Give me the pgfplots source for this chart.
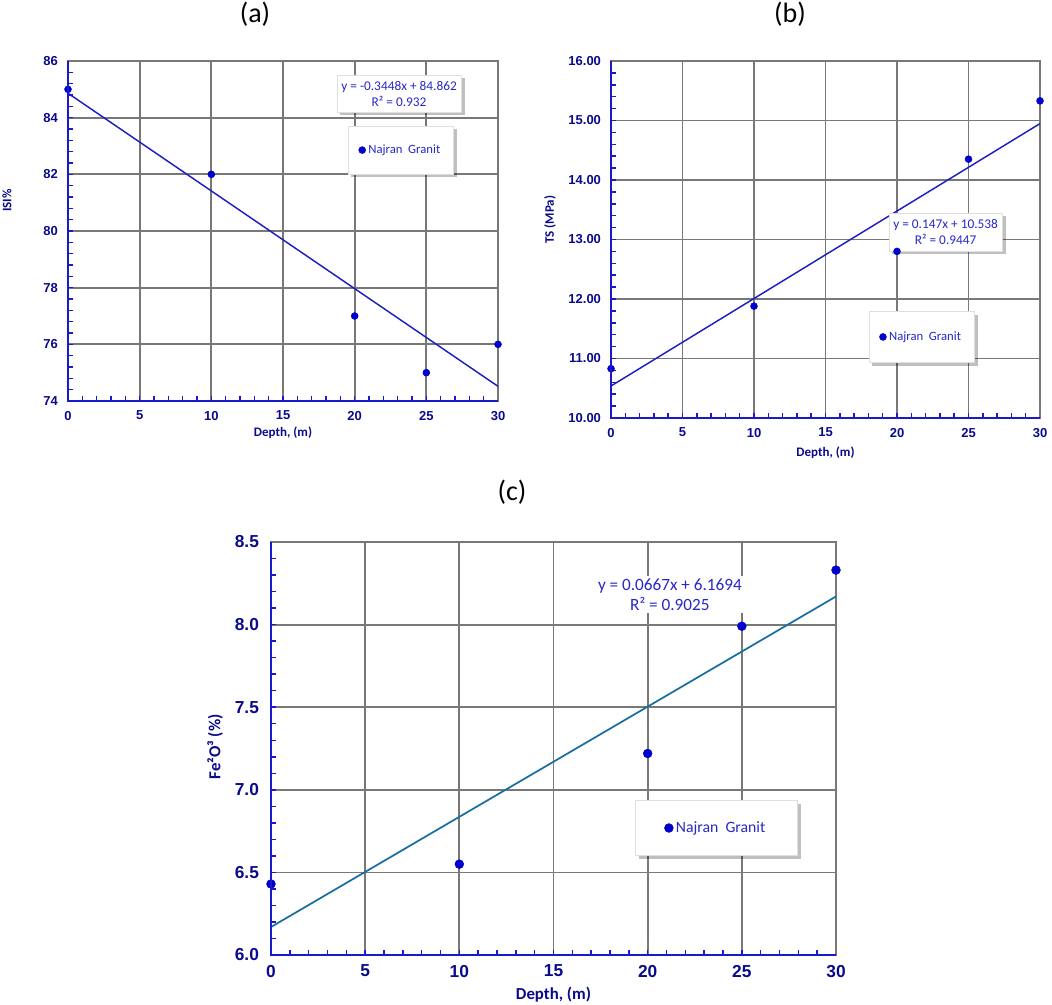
\documentclass[border=0pt]{standalone}
\usepackage{fontspec}
\setmainfont{Carlito}
\newfontfamily\ticksf{Liberation Sans}
\usepackage{pgfplots}
\pgfplotsset{compat=1.18}
\usetikzlibrary{shadows}

\definecolor{navy}{RGB}{10,10,140}
\definecolor{axisblue}{RGB}{25,25,205}
\definecolor{ptblue}{RGB}{0,0,205}
\definecolor{trendblue}{RGB}{30,30,195}
\definecolor{trendteal}{RGB}{25,110,160}
\definecolor{gridgray}{RGB}{120,120,120}
\definecolor{eqblue}{RGB}{40,40,200}

\tikzset{
  eqbox/.style={fill=white, draw=gray!25, line width=0.4pt, text=eqblue, align=center,
    drop shadow={shadow xshift=2.5pt, shadow yshift=-2.5pt, fill=black, opacity=0.25}},
}
\pgfplotsset{
  panel/.style={
    scale only axis,
    anchor=south west,
    xmin=0, xmax=30,
    xtick={0,5,...,30},
    minor x tick num=4,
    minor y tick num=4,
    grid=major,
    major grid style={draw=gridgray, line width=1.35pt},
    axis line style={draw=gridgray, line width=1.35pt},
    tick align=inside,
    tick pos=left,
    major tick length=4pt,
    minor tick length=3.5pt,
    tick style={draw=axisblue, line width=1.1pt},
    /pgf/number format/assume math mode=true,
    label style={text=navy, font=\bfseries},
    ticklabel style={text=navy},
    legend cell align=left,
    after end axis/.code={\draw[axisblue, line width=1.6pt] (rel axis cs:0,1) -- (rel axis cs:0,0) -- (rel axis cs:1,0);},
  },
  dotleg/.style={legend image code/.code={\draw[mark repeat=2,mark phase=2,##1] plot coordinates {(0cm,0cm) (0.12cm,0cm) (0.24cm,0cm)};}},
}

\begin{document}
\begin{tikzpicture}
\path[use as bounding box] (0,0) rectangle (789pt,-753.75pt);
\node[font=\fontsize{21}{24}\selectfont] at (191.25pt,-10.5pt) {(a)};
\node[font=\fontsize{21}{24}\selectfont] at (592.5pt,-10.5pt) {(b)};
\node[font=\fontsize{21}{24}\selectfont] at (384pt,-369pt) {(c)};

% ---------- (a)
\begin{axis}[panel,
  at={(51pt,-300.75pt)}, width=322.5pt, height=255pt,
  ymin=74, ymax=86, ytick={74,76,...,86},
  ticklabel style={font=\ticksf\bfseries\fontsize{9.75}{11}\selectfont},
  yticklabel style={xshift=-4pt},
  xticklabel style={yshift=-4pt},
  label style={font=\bfseries\fontsize{9.75}{11}\selectfont},
  xlabel={Depth, (m)},
  xlabel style={at={(axis description cs:0.5,-0.093)}, anchor=center},
  ylabel={ISI\%},
  ylabel style={at={(axis description cs:-0.142,0.59)}, anchor=center},
  legend style={at={(rel axis cs:0.774,0.738)}, anchor=center, fill=white, draw=gray!25,
    text=eqblue, font=\fontsize{9.5}{10}\selectfont, inner xsep=8pt, inner ysep=12pt,
    drop shadow={shadow xshift=2.5pt, shadow yshift=-2.5pt, fill=black, opacity=0.25}},
]
\addplot[trendblue, line width=1.1pt, forget plot] coordinates {(0,84.862) (30,74.518)};
\addplot[only marks, mark=*, mark size=2.6pt, ptblue, dotleg] coordinates {
  (0,85) (10,82) (20,77) (25,75) (30,76)};
\addlegendentry{Najran\ \ Granit}
\node[eqbox, font=\fontsize{10}{12}\selectfont, minimum width=88.5pt, minimum height=27.75pt]
  at (rel axis cs:0.770,0.904) {y = -0.3448x + 84.862\\R² = 0.932};
\end{axis}

% ---------- (b)
\begin{axis}[panel,
  at={(458.25pt,-313.5pt)}, width=321.75pt, height=267.75pt,
  ymin=10, ymax=16, ytick={10,11,...,16},
  ticklabel style={font=\ticksf\bfseries\fontsize{9.75}{11}\selectfont},
  yticklabel style={xshift=-4pt, /pgf/number format/fixed, /pgf/number format/fixed zerofill, /pgf/number format/precision=2},
  xticklabel style={yshift=-4pt},
  label style={font=\bfseries\fontsize{9.75}{11}\selectfont},
  xlabel={Depth, (m)},
  xlabel style={at={(axis description cs:0.5,-0.097)}, anchor=center},
  ylabel={TS (MPa)},
  ylabel style={at={(axis description cs:-0.142,0.555)}, anchor=center},
  legend style={at={(rel axis cs:0.724,0.227)}, anchor=center, fill=white, draw=gray!25,
    text=eqblue, font=\fontsize{9.5}{10}\selectfont, inner xsep=8pt, inner ysep=13pt,
    drop shadow={shadow xshift=2.5pt, shadow yshift=-2.5pt, fill=black, opacity=0.25}},
]
\addplot[trendblue, line width=1.1pt, forget plot] coordinates {(0,10.538) (30,14.948)};
\addplot[only marks, mark=*, mark size=2.6pt, ptblue, dotleg] coordinates {
  (0,10.83) (10,11.88) (20,12.8) (25,14.35) (30,15.33)};
\addlegendentry{Najran\ \ Granit}
\node[eqbox, font=\fontsize{10}{12}\selectfont, minimum width=81.75pt, minimum height=28.5pt]
  at (rel axis cs:0.780,0.521) {y = 0.147x + 10.538\\R² = 0.9447};
\end{axis}

% ---------- (c)
\begin{axis}[panel,
  at={(203.25pt,-716.25pt)}, width=423.75pt, height=309.75pt,
  ymin=6, ymax=8.5, ytick={6,6.5,7,7.5,8,8.5},
  ticklabel style={font=\ticksf\bfseries\fontsize{13}{15}\selectfont},
  yticklabel style={xshift=-5.5pt, /pgf/number format/fixed, /pgf/number format/fixed zerofill, /pgf/number format/precision=1},
  xticklabel style={yshift=-4pt},
  label style={font=\bfseries\fontsize{12.6}{14}\selectfont},
  xlabel={Depth, (m)},
  xlabel style={at={(axis description cs:0.5,-0.096)}, anchor=center},
  ylabel={Fe²O³ (\%)},
  ylabel style={at={(axis description cs:-0.099,0.504)}, anchor=center},
  legend style={at={(rel axis cs:0.788,0.3075)}, anchor=center, fill=white, draw=gray!25,
    text=eqblue, font=\fontsize{11.8}{13}\selectfont, inner xsep=22pt, inner ysep=14pt,
    drop shadow={shadow xshift=2.5pt, shadow yshift=-2.5pt, fill=black, opacity=0.25}},
]
\addplot[trendteal, line width=1.3pt, forget plot] coordinates {(0,6.1694) (30,8.1704)};
\addplot[only marks, mark=*, mark size=3.3pt, ptblue, dotleg] coordinates {
  (0,6.43) (10,6.55) (20,7.22) (25,7.99) (30,8.33)};
\addlegendentry{Najran\ \ Granit}
\node[fill=white, text=eqblue, align=center, inner sep=2pt, font=\fontsize{12.9}{15}\selectfont]
  at (rel axis cs:0.706,0.872) {y = 0.0667x + 6.1694\\R² = 0.9025};
\end{axis}
\end{tikzpicture}
\end{document}
